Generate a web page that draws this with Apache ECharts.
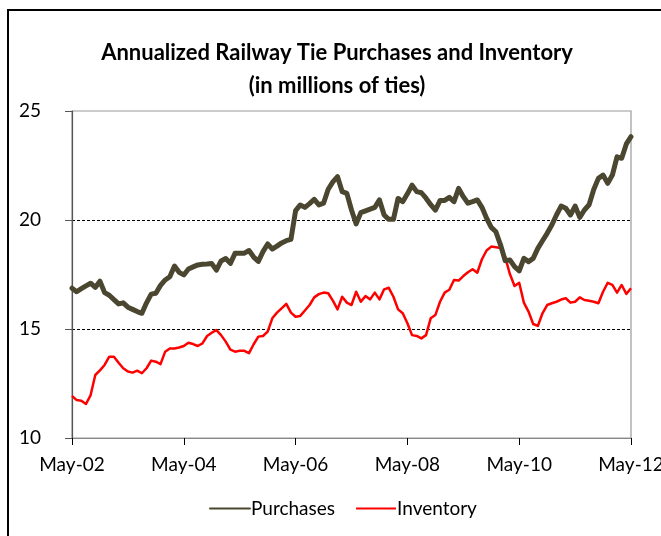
<!DOCTYPE html>
<html>
<head>
<meta charset="utf-8">
<script src="https://cdn.jsdelivr.net/npm/echarts@6/dist/echarts.min.js"></script>
<style>
html,body{margin:0;padding:0;background:#fff;}
#chart{width:661px;height:536px;}
</style>
</head>
<body>
<div id="chart"></div>
<script>
var monthNames = ['Jan','Feb','Mar','Apr','May','Jun','Jul','Aug','Sep','Oct','Nov','Dec'];
var startYear = 2002, startMonth = 4, monthCount = 121;
var categories = [];
for (var k = 0; k < monthCount; k++) {
  var m = (startMonth + k) % 12;
  var y = startYear + Math.floor((startMonth + k) / 12);
  categories.push(monthNames[m] + '-' + String(y % 100).padStart(2, '0'));
}

var purchases = [
  16.87,16.71,16.85,16.98,17.10,16.91,17.19,16.67,16.55,16.35,
  16.15,16.20,16.00,15.90,15.80,15.72,16.20,16.60,16.64,17.00,
  17.25,17.40,17.89,17.60,17.48,17.75,17.85,17.94,17.97,17.98,
  18.00,17.70,18.12,18.23,18.01,18.47,18.47,18.48,18.60,18.30,
  18.10,18.55,18.90,18.67,18.80,18.95,19.05,19.11,20.43,20.69,
  20.58,20.75,20.95,20.69,20.77,21.41,21.75,21.99,21.30,21.22,
  20.46,19.82,20.34,20.42,20.50,20.58,20.92,20.23,20.03,20.03,
  20.99,20.84,21.20,21.60,21.30,21.25,21.00,20.70,20.45,20.89,
  20.90,21.04,20.84,21.45,21.07,20.77,20.84,20.92,20.58,20.08,
  19.66,19.46,18.85,18.13,18.17,17.86,17.67,18.24,18.09,18.24,
  18.70,19.05,19.39,19.77,20.23,20.64,20.54,20.23,20.64,20.12,
  20.46,20.70,21.40,21.91,22.06,21.68,22.06,22.90,22.83,23.49,
  23.82
];

var inventory = [
  11.93,11.74,11.71,11.56,11.97,12.89,13.10,13.35,13.73,13.73,
  13.45,13.20,13.05,13.00,13.09,12.97,13.20,13.55,13.50,13.39,
  13.96,14.11,14.11,14.15,14.22,14.37,14.31,14.22,14.34,14.68,
  14.83,14.95,14.72,14.42,14.05,13.96,14.00,14.00,13.89,14.30,
  14.65,14.68,14.88,15.49,15.75,15.95,16.15,15.75,15.56,15.60,
  15.85,16.10,16.45,16.60,16.67,16.64,16.30,15.90,16.48,16.21,
  16.10,16.71,16.25,16.51,16.36,16.67,16.36,16.82,16.89,16.48,
  15.90,15.72,15.26,14.72,14.68,14.57,14.72,15.49,15.64,16.25,
  16.67,16.80,17.25,17.22,17.43,17.60,17.74,17.58,18.20,18.60,
  18.78,18.75,18.72,18.30,17.52,16.97,17.12,16.21,15.80,15.23,
  15.14,15.72,16.10,16.18,16.25,16.35,16.41,16.21,16.25,16.45,
  16.33,16.30,16.25,16.18,16.71,17.12,17.02,16.67,17.02,16.61,
  16.87
];

var titleLines = ['Annualized Railway Tie Purchases and Inventory', '(in millions of ties)'];
var yTicks = [10, 15, 20, 25];
var seriesNames = ['Purchases', 'Inventory'];

var chart = echarts.init(document.getElementById('chart'), null, {renderer: 'canvas'});
var font = 'Lato, "Open Sans", sans-serif';
chart.setOption({
  animation: false,
  backgroundColor: '#fff',
  graphic: [{
    type: 'rect',
    shape: {x: 8, y: 10, width: 720, height: 620},
    style: {fill: 'none', stroke: '#000', lineWidth: 2},
    silent: true
  }],
  title: {
    text: titleLines.join('\n'),
    left: 332,
    top: 31,
    textAlign: 'center',
    textStyle: {fontFamily: font, fontSize: 22, fontWeight: 'bold', color: '#000', lineHeight: 33}
  },
  legend: {
    data: seriesNames,
    top: 494,
    left: 204,
    itemWidth: 40,
    itemHeight: 16,
    itemGap: 20,
    itemStyle: {opacity: 0},
    textStyle: {fontFamily: font, fontSize: 19, color: '#000', padding: [0,0,0,-4]}
  },
  grid: {
    left: 72, right: 30, top: 111, bottom: 98,
    show: true, borderColor: '#999', borderWidth: 1.2,
    containLabel: false, outerBoundsMode: 'none'
  },
  xAxis: {
    type: 'category',
    data: categories,
    boundaryGap: false,
    axisLine: {lineStyle: {color: '#888', width: 1.2}},
    axisTick: {show: true, interval: 23, length: 7, inside: false, lineStyle: {color: '#000'}},
    axisLabel: {interval: 23, margin: 17, fontFamily: font, fontSize: 19, color: '#000', hideOverlap: false},
    splitLine: {show: false}
  },
  yAxis: {
    type: 'value',
    min: yTicks[0], max: yTicks[yTicks.length - 1], interval: 5,
    axisLine: {show: true, lineStyle: {color: '#555', width: 1.2}},
    axisTick: {show: true, length: 7, lineStyle: {color: '#555'}},
    axisLabel: {margin: 31, fontFamily: font, fontSize: 19, color: '#000'},
    splitLine: {show: true, lineStyle: {color: ['rgba(0,0,0,0)', '#000', '#000', 'rgba(0,0,0,0)'], type: [3, 2], width: 1}}
  },
  series: [
    {
      name: seriesNames[0], type: 'line', data: purchases,
      showSymbol: false, symbol: 'none',
      lineStyle: {color: '#4b4630', width: 5, join: 'round', cap: 'round'},
      itemStyle: {color: '#4b4630'},
      z: 3
    },
    {
      name: seriesNames[1], type: 'line', data: inventory,
      showSymbol: false, symbol: 'none',
      lineStyle: {color: '#ff0000', width: 2.5, join: 'round'},
      itemStyle: {color: '#ff0000'},
      z: 2
    }
  ]
});
</script>
</body>
</html>
